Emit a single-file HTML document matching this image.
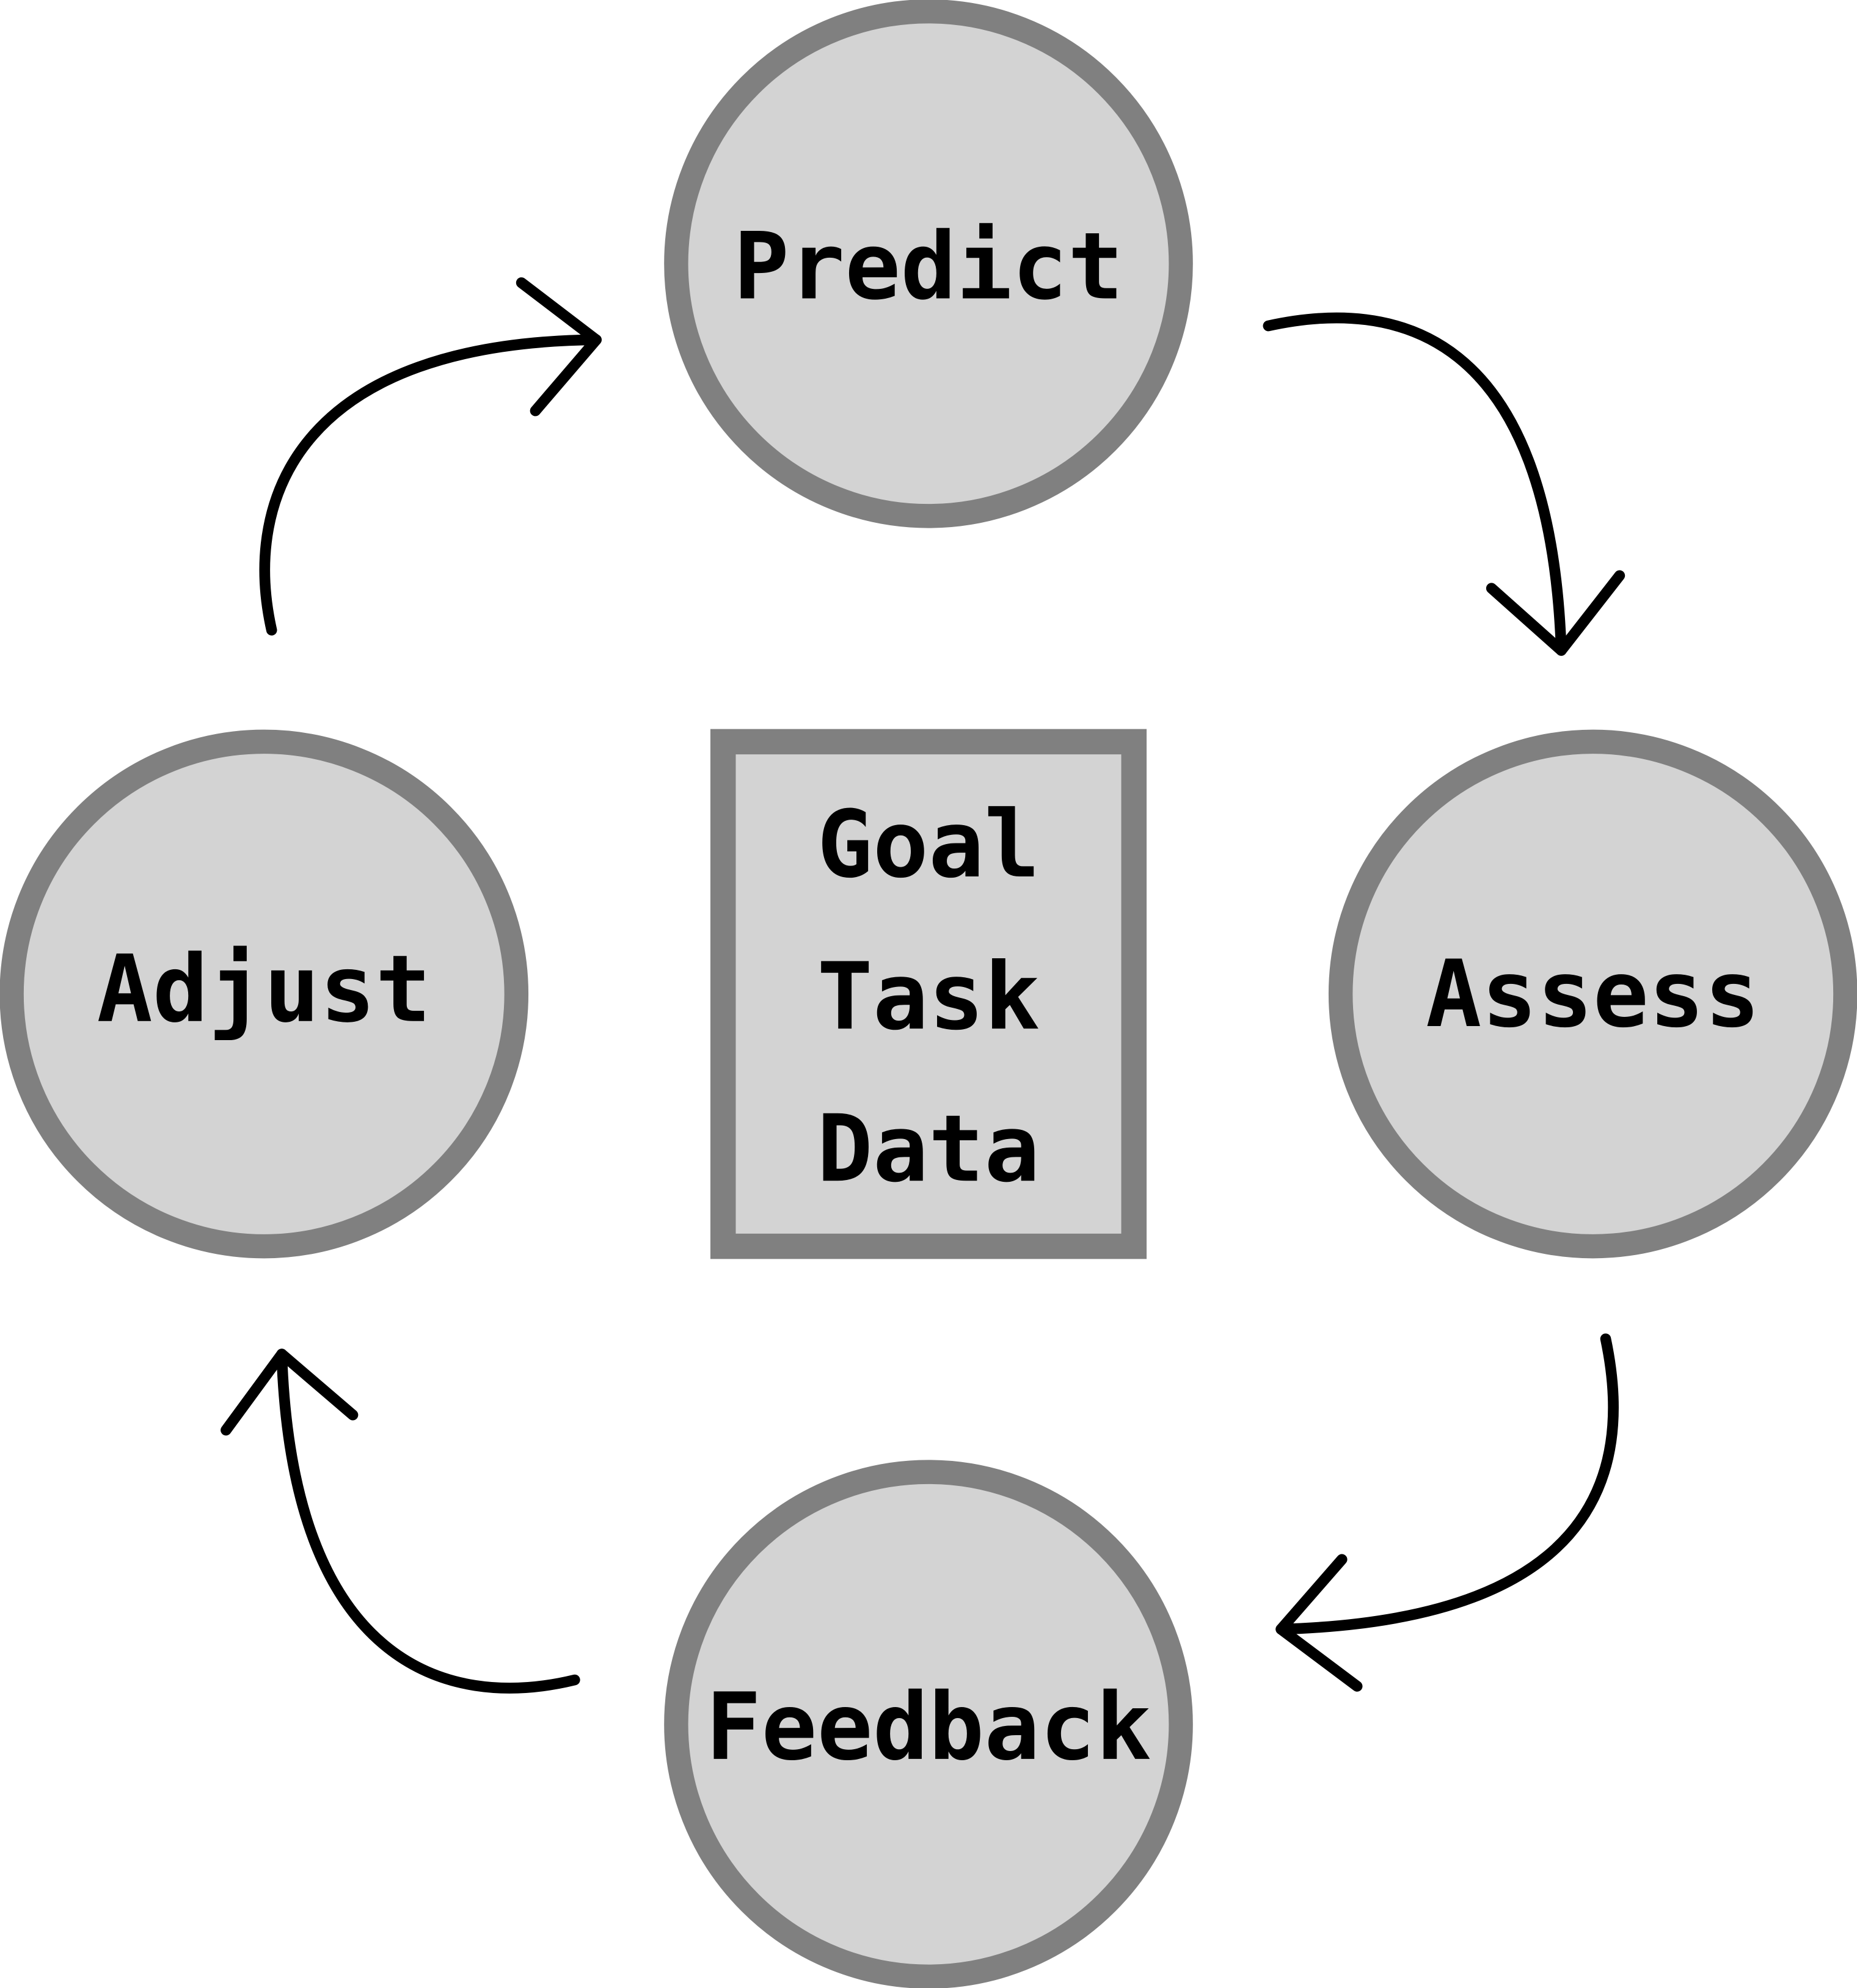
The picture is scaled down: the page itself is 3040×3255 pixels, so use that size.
<!DOCTYPE html>
<html><head><meta charset="utf-8"><style>
html,body{margin:0;padding:0;background:#fff;}
svg{display:block}
text{font-family:"DejaVu Sans Mono","Liberation Mono",monospace;font-weight:bold;font-size:73px;fill:#000;text-anchor:middle;dominant-baseline:central}
</style></head><body>
<svg width="3040" height="3255" viewBox="0 0 1464 1568" xmlns="http://www.w3.org/2000/svg">
<rect width="1464" height="1568" fill="#fff"/>
<g fill="#d3d3d3" stroke="#808080" stroke-width="19">
<circle cx="732" cy="208" r="199"/>
<circle cx="208" cy="784" r="199"/>
<circle cx="1256" cy="784" r="199"/>
<circle cx="732" cy="1360" r="199"/>
<rect x="570" y="585" width="324" height="398" stroke-width="20"/>
</g>
<text x="732" y="210">Predict</text>
<text x="208" y="780">Adjust</text>
<text x="1256" y="784">Assess</text>
<text x="732" y="1362">Feedback</text>
<text x="732" y="666">Goal</text>
<text x="732" y="786">Task</text>
<text x="732" y="906">Data</text>
<g fill="none" stroke="#000" stroke-width="8.5" stroke-linecap="round" stroke-linejoin="round">
<path d="M1000,257 C1100,235 1222,260 1231,513"/>
<path d="M1176,464 L1231,513 L1277,454"/>
<path d="M1266,1056 C1290,1170 1250,1278 1010,1285"/>
<path d="M1058,1230 L1010,1285 L1070,1330"/>
<path d="M453,1325 C350,1350 230,1310 222,1068"/>
<path d="M178,1128 L222,1068 L278,1116"/>
<path d="M214,497 C190,390 240,270 470,268"/>
<path d="M411,223 L470,268 L422,324"/>
</g>
</svg>
</body></html>
